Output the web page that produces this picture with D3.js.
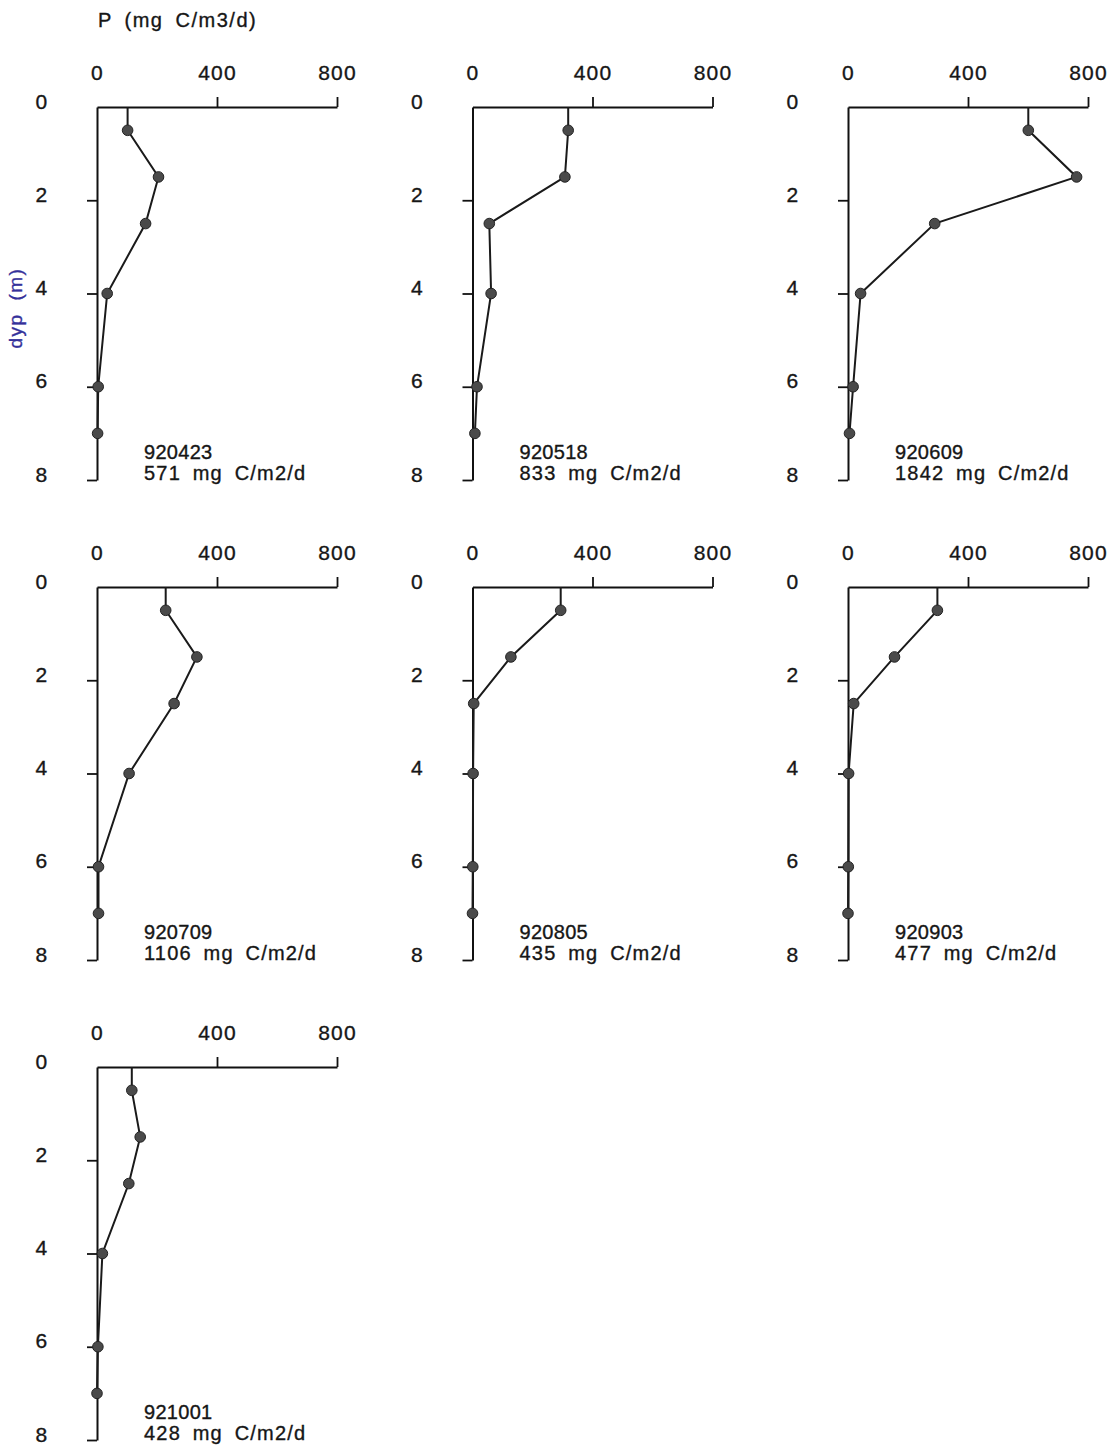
<!DOCTYPE html>
<html>
<head>
<meta charset="utf-8">
<script src="https://cdn.jsdelivr.net/npm/d3@7"></script>
<style>
  html, body { margin: 0; padding: 0; background: #fff; }
  svg text { font-family: "Liberation Sans", Arial, sans-serif; fill: #161616; stroke: #161616; stroke-width: 0.35px; }
</style>
</head>
<body>
<svg id="chart" width="1114" height="1448"></svg>
<script>
// Sampling depths (m) of each primary-production profile
const depths = [0.5, 1.5, 2.5, 4, 6, 7];

// Station dates (yymmdd) and the depth-integrated production (mg C/m2/d)
const stations = ["920423", "920518", "920609", "920709", "920805", "920903", "921001"];
const integrated = [571, 833, 1842, 1106, 435, 477, 428];

// Production P (mg C/m3/d) at each sampling depth
const p920423 = [102, 205, 162, 34, 4, 2];
const p920518 = [319, 308, 56, 62, 15, 8];
const p920609 = [601, 762, 289, 42, 17, 5];
const p920709 = [229, 333, 257, 107, 5, 5];
const p920805 = [294, 128, 4, 2, 1, 0];
const p920903 = [298, 155, 19, 2, 1, 0];
const p921001 = [116, 144, 106, 18, 3, 0];
const profiles = [p920423, p920518, p920609, p920709, p920805, p920903, p921001];

// Axis ticks
const pTicks = [0, 400, 800];
const depthTicks = [0, 2, 4, 6, 8];

const svg = d3.select("#chart");

const panelW = 240, panelH = 373;
const x = d3.scaleLinear().domain([0, 800]).range([0, panelW]);
const y = d3.scaleLinear().domain([0, 8]).range([0, panelH]);

const colLeft = d3.scaleLinear().domain([0, 2]).range([97, 848]);
const rowTop = d3.scaleLinear().domain([0, 2]).range([107, 1067]);

const line = d3.line().x(d => x(d.p)).y(d => y(d.z));

stations.forEach((st, i) => {
  const col = i % 3, row = Math.floor(i / 3);
  const g = svg.append("g")
    .attr("transform", `translate(${colLeft(col)},${rowTop(row)})`);

  // top P axis
  const ax = g.append("g")
    .call(d3.axisTop(x).tickValues(pTicks).tickSize(10).tickSizeOuter(0).tickPadding(17));
  // left depth axis
  const ay = g.append("g")
    .call(d3.axisLeft(y).tickValues(depthTicks).tickSize(10).tickSizeOuter(0).tickPadding(40));

  [ax, ay].forEach(a => {
    a.select(".domain").attr("stroke", "#111").attr("stroke-width", 2);
    a.selectAll(".tick line").attr("stroke", "#111").attr("stroke-width", 1.8);
    a.selectAll(".tick text")
      .style("font-size", "21px")
      .style("letter-spacing", "1.2px")
      .attr("fill", "#161616");
    // no tick mark at the origin
    a.selectAll(".tick").filter(d => d === 0).select("line").remove();
  });
  ax.selectAll(".tick text").attr("text-anchor", "middle");
  ay.selectAll(".tick text").attr("text-anchor", "middle").attr("x", -55).attr("dy", "0.05em");

  // profile: surface value carried up to the axis, then through the samples
  const vals = profiles[i];
  const pts = [{ z: 0, p: vals[0] }].concat(depths.map((z, k) => ({ z, p: vals[k] })));
  g.append("path")
    .datum(pts)
    .attr("d", line)
    .attr("fill", "none")
    .attr("stroke", "#1a1a1a")
    .attr("stroke-width", 2);

  g.selectAll("circle")
    .data(depths.map((z, k) => ({ z, p: vals[k] })))
    .join("circle")
    .attr("cx", d => x(d.p))
    .attr("cy", d => y(d.z))
    .attr("r", 5.3)
    .attr("fill", "#4a4a4a")
    .attr("stroke", "#222")
    .attr("stroke-width", 1);

  // station label and integrated production
  const lab = g.append("text")
    .style("font-size", "20px");
  lab.append("tspan").attr("x", 47).attr("y", y(7.5) + 2)
    .style("letter-spacing", "0.3px")
    .text(st);
  lab.append("tspan").attr("x", 47).attr("y", y(8))
    .style("letter-spacing", "1.2px")
    .style("word-spacing", "5px")
    .text(`${integrated[i]} mg C/m2/d`);
});

// overall axis titles
svg.append("text")
  .attr("x", 98).attr("y", 27)
  .style("font-size", "20px")
  .style("letter-spacing", "1.5px")
  .style("word-spacing", "5px")
  .text("P (mg C/m3/d)");

svg.append("text")
  .attr("transform", "translate(22,308) rotate(-90)")
  .attr("text-anchor", "middle")
  .style("font-size", "19px")
  .style("fill", "#34309a")
  .style("stroke", "#34309a")
  .style("letter-spacing", "1.5px")
  .style("word-spacing", "6px")
  .text("dyp (m)");
</script>
</body>
</html>
